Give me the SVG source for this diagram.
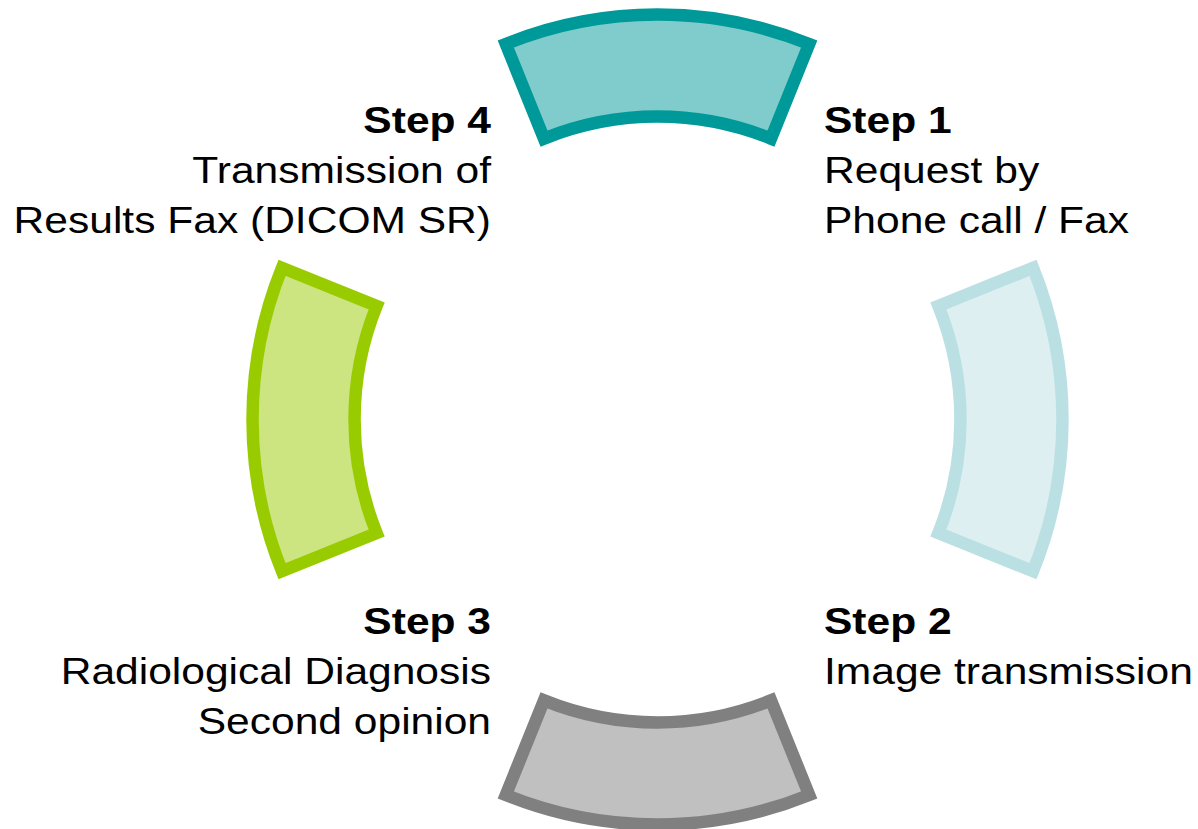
<svg xmlns="http://www.w3.org/2000/svg" width="1198" height="829" viewBox="0 0 1198 829">
<style>
.seg{stroke-width:12.5;stroke-linejoin:miter;stroke-miterlimit:10}
.t{font-family:"Liberation Sans",Arial,sans-serif;font-size:37px;fill:#000}
.b{font-weight:bold}
.e{text-anchor:end}
</style>
<rect width="1198" height="829" fill="#fff"/>
<g id="seg-top"><path class="seg" fill="#80CCCC" stroke="#009999" d="M505.8,44 A405,405 0 0 1 809.2,44 L771,138.6 A303,303 0 0 0 544,138.6 Z"/></g>
<g id="seg-right"><path class="seg" fill="#DDEFF1" stroke="#BBE0E4" d="M1033,267.8 A405,405 0 0 1 1033,571.2 L938.4,533 A303,303 0 0 0 938.4,306 Z"/></g>
<g id="seg-bottom"><path class="seg" fill="#C0C0C0" stroke="#808080" d="M809.2,795 A405,405 0 0 1 505.8,795 L544,700.4 A303,303 0 0 0 771,700.4 Z"/></g>
<g id="seg-left"><path class="seg" fill="#CCE580" stroke="#99CC00" d="M282,571.2 A405,405 0 0 1 282,267.8 L376.6,306 A303,303 0 0 0 376.6,533 Z"/></g>
<g id="step1" transform="translate(824,0) scale(1.15,1)">
<text class="t b" x="0" y="133">Step 1</text>
<text class="t" x="0" y="183">Request by</text>
<text class="t" x="0" y="233">Phone call / Fax</text>
</g>
<g id="step2" transform="translate(824,0) scale(1.15,1)">
<text class="t b" x="0" y="634">Step 2</text>
<text class="t" x="0" y="684">Image transmission</text>
</g>
<g id="step3" transform="translate(491,0) scale(1.15,1)">
<text class="t b e" x="0" y="634">Step 3</text>
<text class="t e" x="0" y="684">Radiological Diagnosis</text>
<text class="t e" x="0" y="734">Second opinion</text>
</g>
<g id="step4" transform="translate(491,0) scale(1.15,1)">
<text class="t b e" x="0" y="133">Step 4</text>
<text class="t e" x="0" y="183">Transmission of</text>
<text class="t e" x="0" y="233">Results Fax (DICOM SR)</text>
</g>
<g id="connectors"></g>
</svg>
